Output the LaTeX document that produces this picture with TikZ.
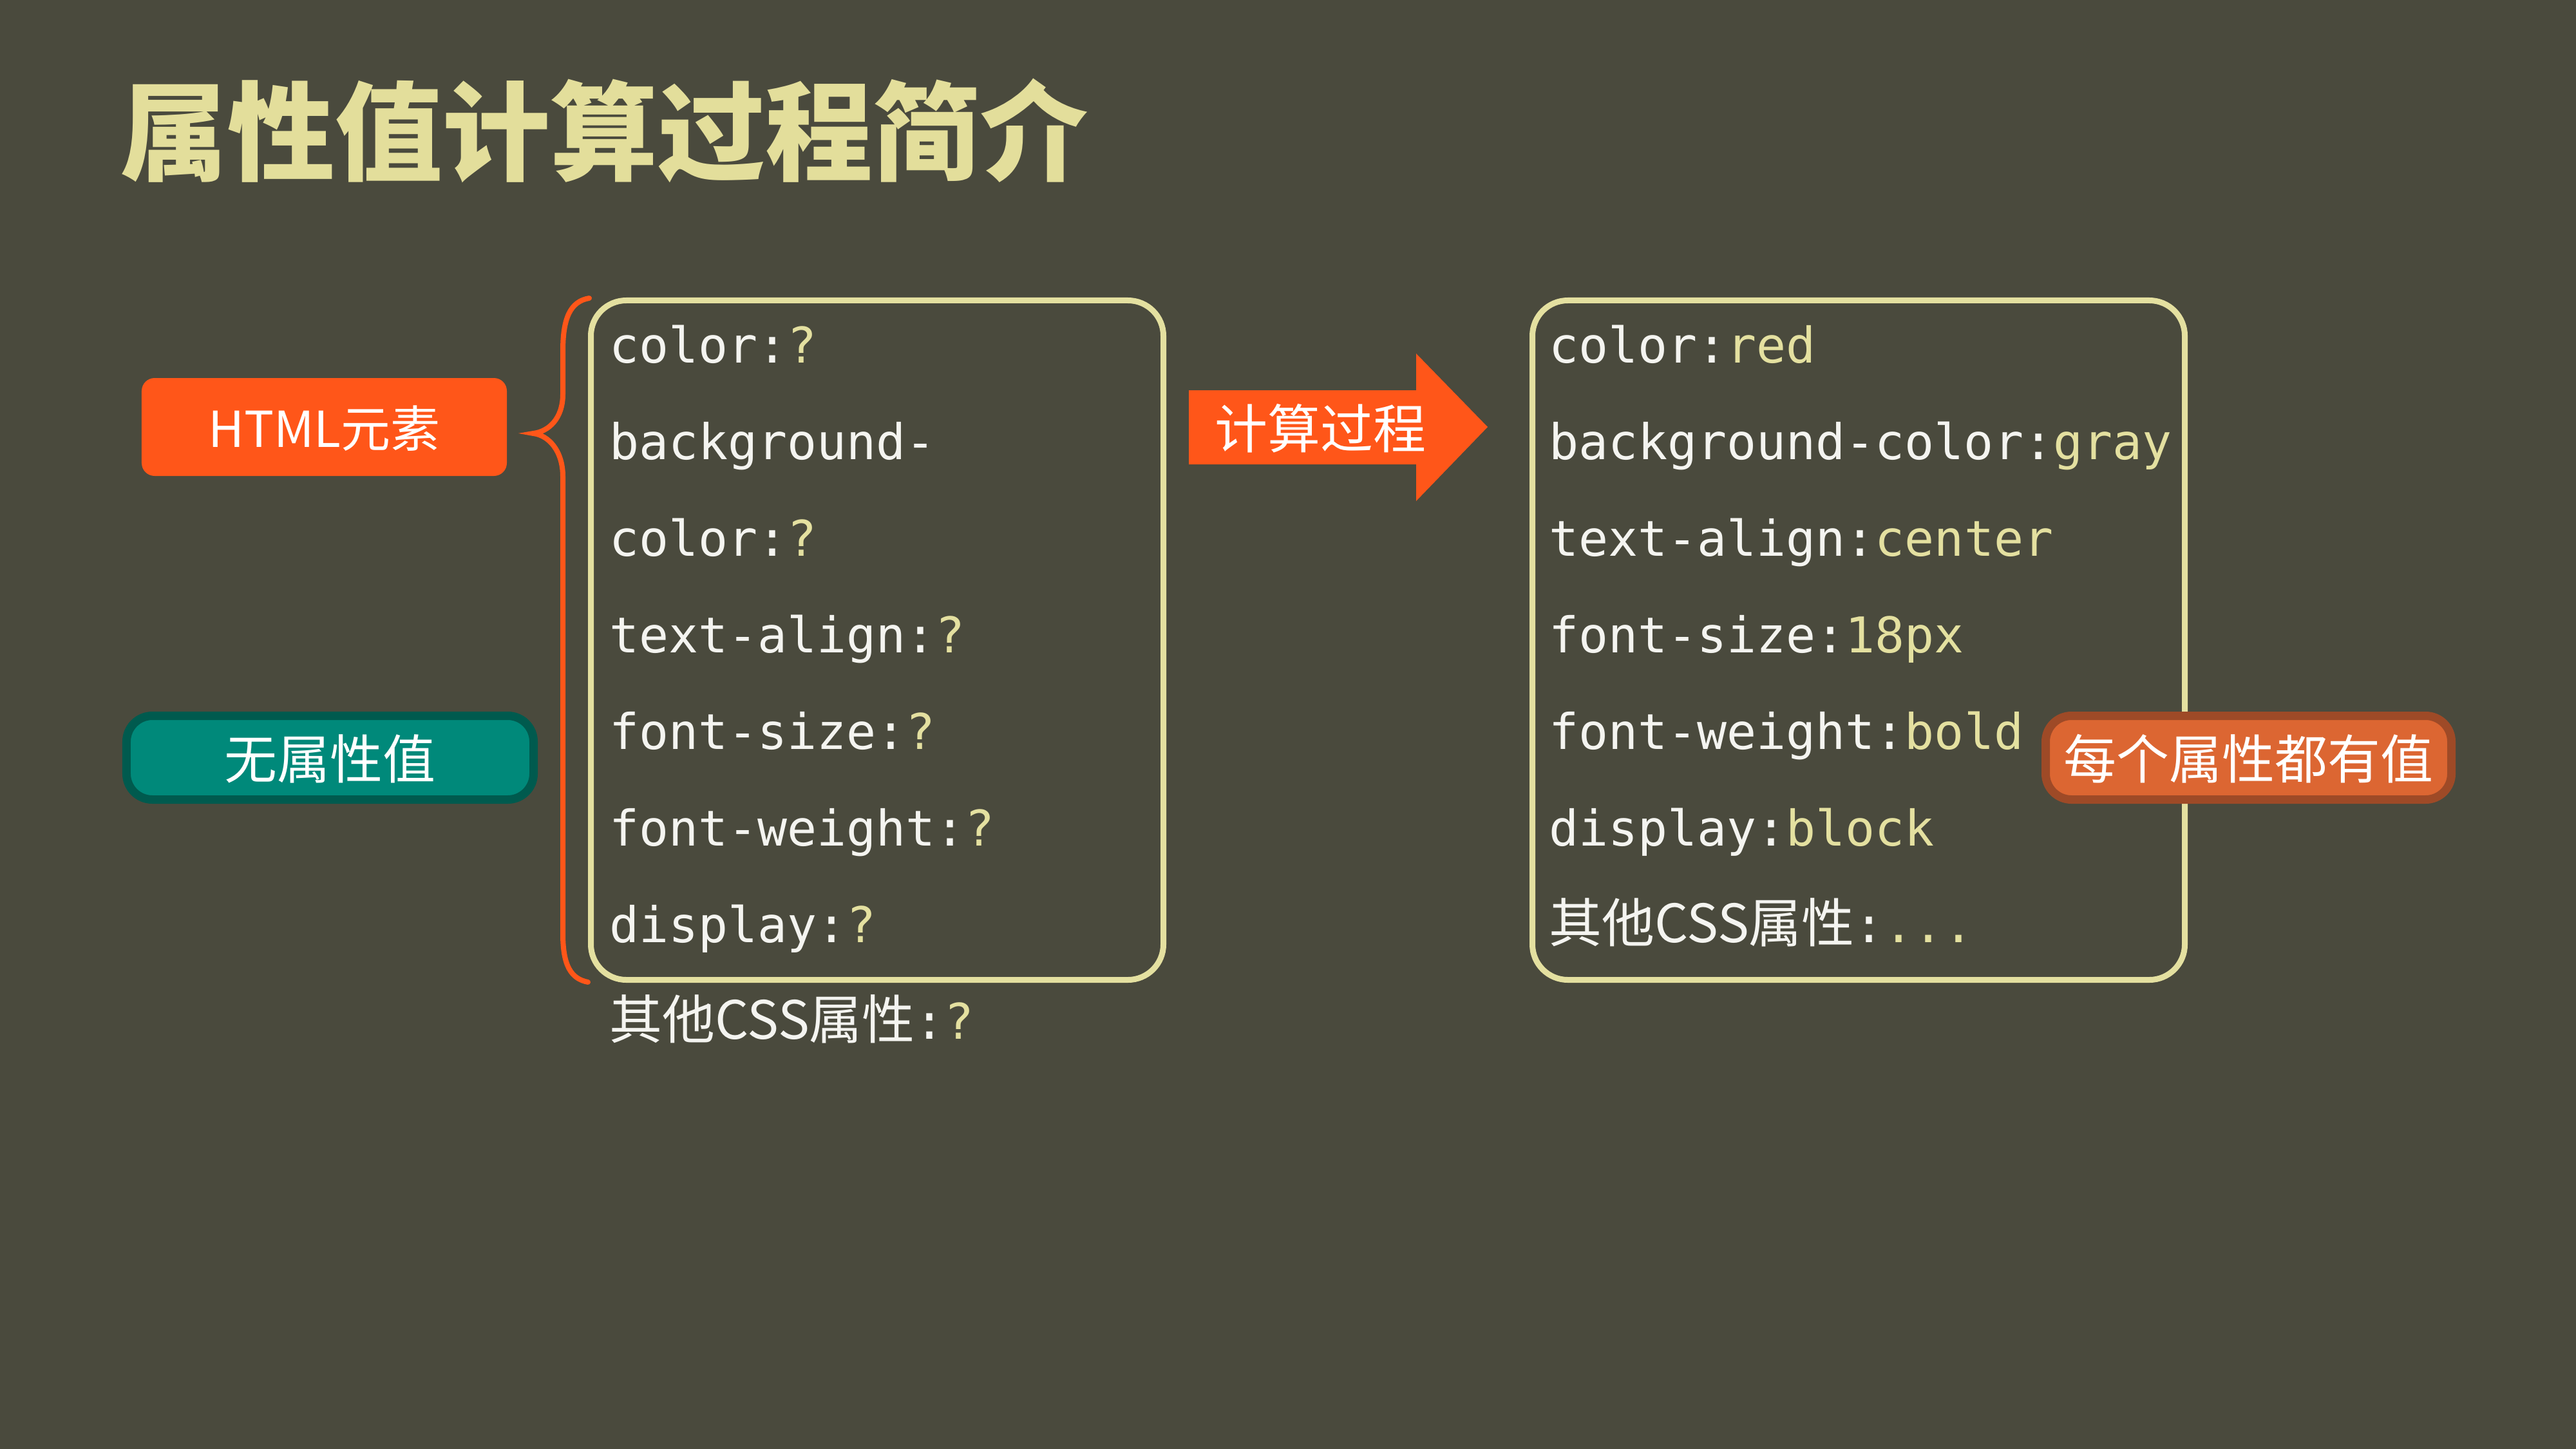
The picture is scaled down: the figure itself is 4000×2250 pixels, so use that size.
\documentclass[tikz,border=0pt]{standalone}
\usepackage{fontspec}
\setmonofont{DejaVu Sans Mono}
\newfontfamily\cjkfont{Noto Sans CJK SC}
\definecolor{bg}{HTML}{4A4A3D}
\definecolor{ylw}{HTML}{E4E0A0}
\definecolor{ttl}{HTML}{E3DE9B}
\definecolor{txt}{HTML}{F4F4F0}
\definecolor{org}{HTML}{FF5619}
\definecolor{teala}{HTML}{00897A}
\definecolor{tealb}{HTML}{005A4E}
\definecolor{lbla}{HTML}{DC6632}
\definecolor{lblb}{HTML}{9E4A27}
\newcommand\mycode{\ttfamily\fontsize{76.5bp}{76.5bp}\selectfont}
\newcommand\mycjk{\cjkfont\fontsize{82bp}{82bp}\selectfont}
\newcommand\val[1]{\textcolor{ylw}{#1}}
\begin{document}
\begin{tikzpicture}[x=1bp,y=-1bp,
  codeline/.style={anchor=base west, inner sep=0pt, text=txt, font=\mycode},
  propbox/.style={draw=ylw, line width=9bp, rounded corners=55bp, inner sep=0pt},
  labeltext/.style={inner sep=0pt, text=white, font=\mycjk}]
\useasboundingbox[fill=bg] (0,0) rectangle (4000,2250);
% title
\node[anchor=base west, inner sep=0pt, text=ttl, font={\cjkfont\bfseries\fontsize{167bp}{167bp}\selectfont}] (title) at (186,268) {属性值计算过程简介};
% left labels
\node[fill=org, rounded corners=20bp, minimum width=567bp, minimum height=152bp, inner sep=0pt] (html) at (503.5,663) {};
\node[labeltext, font=\cjkfont\fontsize{77bp}{77bp}\selectfont] (htmlt) at (503.5,665) {HTML元素};
\node[fill=teala, draw=tealb, line width=13bp, rounded corners=40bp, minimum width=632bp, minimum height=130bp, inner sep=0pt] (none) at (512.5,1176.5) {};
\node[labeltext] (nonet) at (512.5,1178) {无属性值};
% boxes
\node[propbox, minimum width=889bp, minimum height=1055bp] (lbox) at (1362,994) {};
\node[propbox, minimum width=1013bp, minimum height=1055bp] (rbox) at (2886,994) {};
% brace
\coordinate (b1) at (915,463);
\coordinate (b2) at (828,673);
\coordinate (b3) at (913,1525);
\draw[org, line width=8bp, line cap=round]
  (b1) .. controls (885,468) and (874,495) .. (874,545) -- (874,612)
  .. controls (874,650) and (852,670) .. (b2)
  .. controls (852,676) and (874,700) .. (874,740) -- (874,1450)
  .. controls (874,1500) and (887,1520) .. (b3);
% left code lines
\node[codeline] (l1) at (946,563) {color:\val{?}};
\node[codeline] (l2) at (946,713) {background-};
\node[codeline] (l3) at (946,863) {color:\val{?}};
\node[codeline] (l4) at (946,1013) {text-align:\val{?}};
\node[codeline] (l5) at (946,1163) {font-size:\val{?}};
\node[codeline] (l6) at (946,1313) {font-weight:\val{?}};
\node[codeline] (l7) at (946,1463) {display:\val{?}};
\node[codeline] (l8) at (946,1613) {{\mycjk 其他CSS属性}:\val{?}};
% arrow
\coordinate (a1) at (1846,606);
\coordinate (a2) at (2199,606);
\coordinate (a3) at (2199,549);
\coordinate (a4) at (2310,663);
\coordinate (a5) at (2199,778);
\coordinate (a6) at (2199,721);
\coordinate (a7) at (1846,721);
\fill[org] (a1) -- (a2) -- (a3) -- (a4) -- (a5) -- (a6) -- (a7) -- cycle;
\node[labeltext] (calc) at (2050,665) {计算过程};
% right code lines
\node[codeline] (r1) at (2405,563) {color:\val{red}};
\node[codeline] (r2) at (2405,713) {background-color:\val{gray}};
\node[codeline] (r3) at (2405,863) {text-align:\val{center}};
\node[codeline] (r4) at (2405,1013) {font-size:\val{18px}};
\node[codeline] (r5) at (2405,1163) {font-weight:\val{bold}};
\node[codeline] (r6) at (2405,1313) {display:\val{block}};
\node[codeline] (r7) at (2405,1463) {{\mycjk 其他CSS属性}:\val{...}};
% right label
\node[fill=lbla, draw=lblb, line width=13bp, rounded corners=40bp, minimum width=630bp, minimum height=130bp, inner sep=0pt] (all) at (3491.5,1176.5) {};
\node[labeltext] (allt) at (3491.5,1178) {每个属性都有值};
\end{tikzpicture}
\end{document}
